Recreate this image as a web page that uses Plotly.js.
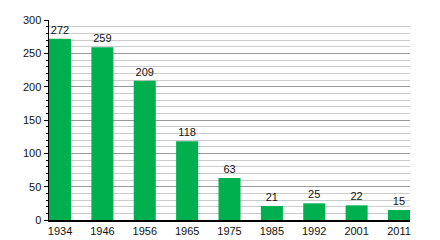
<!DOCTYPE html>
<html><head><meta charset="utf-8">
<script src="https://cdn.plot.ly/plotly-3.0.1.min.js"></script>
<style>html,body{margin:0;padding:0;background:#fff}</style>
</head><body>
<div id="chart" style="width:440px;height:240px"></div>
<script>
const years = ["1934","1946","1956","1965","1975","1985","1992","2001","2011"];
const population = [272,259,209,118,63,21,25,22,15];

Plotly.newPlot('chart', [{
  type: 'bar',
  x: years,
  y: population,
  text: population.map(String),
  textposition: 'outside',
  cliponaxis: false,
  textfont: {family: 'Liberation Sans, Arial, sans-serif', size: 11, color: '#111'},
  marker: {color: '#00b04f'},
  hoverinfo: 'none'
}], {
  width: 440, height: 240,
  margin: {l: 49, r: 30, t: 20, b: 20, pad: 0},
  paper_bgcolor: '#fff', plot_bgcolor: '#fff',
  bargap: 0.48,
  showlegend: false,
  font: {family: 'Liberation Sans, Arial, sans-serif', size: 11, color: '#111'},
  xaxis: {
    type: 'category',
    range: [-0.26, 8.26],
    showline: true, linecolor: '#000', linewidth: 1.5,
    ticks: '', showgrid: false, zeroline: false,
    tickfont: {size: 11}
  },
  yaxis: {
    range: [0, 300],
    dtick: 50,
    showline: true, linecolor: '#000', linewidth: 1.5,
    ticks: 'outside', ticklen: 4, tickcolor: '#000',
    showgrid: true, gridcolor: '#999', gridwidth: 1,
    zeroline: false,
    tickfont: {size: 11},
    minor: {dtick: 10, ticks: 'outside', ticklen: 2, tickcolor: '#000', showgrid: true, gridcolor: '#ccc', gridwidth: 1}
  }
}, {staticPlot: true, displayModeBar: false});
</script>
</body></html>
